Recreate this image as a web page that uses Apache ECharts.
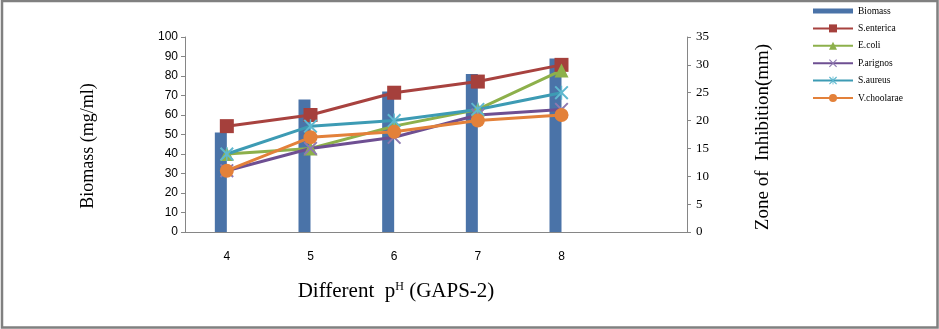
<!DOCTYPE html>
<html>
<head>
<meta charset="utf-8">
<script src="https://cdn.jsdelivr.net/npm/echarts@6/dist/echarts.min.js"></script>
<style>html,body{margin:0;padding:0;background:#fff;}#c{width:939px;height:329px;}</style>
</head>
<body>
<div id="c"></div>
<script>
var categories = ['4', '5', '6', '7', '8', ''];
var biomass = [51, 68, 72, 81, 89];
var sEnterica = [19, 21, 25, 27, 30];
var eColi = [14, 15, 19, 22, 29];
var pArignos = [11, 15, 17, 21, 22];
var sAureus = [14, 19, 20, 22, 25];
var vCholerae = [11, 17, 18, 20, 21];
var leftTicks = {min: 0, max: 100, interval: 10};
var rightTicks = {min: 0, max: 35, interval: 5};

var X_PATH = 'path://M0,1L1,0L10,9L9,10Z M9,0L10,1L1,10L0,9Z';
var STAR_PATH = 'path://M0,1L1,0L10,9L9,10Z M9,0L10,1L1,10L0,9Z M4.5,0L5.5,0L5.5,10L4.5,10Z';
var axisGrey = '#868686';
var serif = '"Liberation Serif", "Times New Roman", serif';
var sans = '"Liberation Sans", Arial, sans-serif';

function lineSeries(name, data, color, markColor, symbol, size) {
  return {
    name: name, type: 'line', yAxisIndex: 1, data: data,
    symbol: symbol, symbolSize: size,
    lineStyle: {color: color, width: 3},
    itemStyle: {color: markColor},
    z: 3
  };
}

var chart = echarts.init(document.getElementById('c'), null, {renderer: 'canvas'});
chart.setOption({
  animation: false,
  backgroundColor: '#fff',
  grid: {left: 185, right: 252, top: 37, bottom: 97},
  legend: {
    orient: 'vertical', left: 812, top: 6, padding: 0,
    itemWidth: 40, itemHeight: 10, itemGap: 7.4,
    textStyle: {fontFamily: serif, fontSize: 9.5, color: '#000'},
    data: [
      {name: 'Biomass', icon: 'path://M0,0H40V5H0Z'},
      'S.enterica', 'E.coli', 'P.arignos', 'S.aureus', 'V.choolarae'
    ]
  },
  xAxis: {
    type: 'category', data: categories,
    axisLine: {lineStyle: {color: axisGrey}},
    axisTick: {length: 4, lineStyle: {color: axisGrey}},
    axisLabel: {fontFamily: sans, fontSize: 12, color: '#000', margin: 19}
  },
  yAxis: [
    {
      type: 'value', min: leftTicks.min, max: leftTicks.max, interval: leftTicks.interval,
      splitLine: {show: false},
      axisLine: {show: true, lineStyle: {color: axisGrey}},
      axisTick: {show: true, length: 4, lineStyle: {color: axisGrey}},
      axisLabel: {fontFamily: sans, fontSize: 12, color: '#000', margin: 7}
    },
    {
      type: 'value', position: 'right', min: rightTicks.min, max: rightTicks.max, interval: rightTicks.interval,
      splitLine: {show: false},
      axisLine: {show: true, lineStyle: {color: axisGrey}},
      axisTick: {show: true, length: 4, lineStyle: {color: axisGrey}},
      axisLabel: {fontFamily: serif, fontSize: 13, color: '#000', margin: 9}
    }
  ],
  series: [
    {name: 'Biomass', type: 'bar', yAxisIndex: 0, data: biomass, barWidth: 12, barGap: '0%',
     itemStyle: {color: '#4A73A8'}, z: 2},
    {name: '_pad', type: 'bar', yAxisIndex: 0, data: [], barWidth: 12},
    lineSeries('S.enterica', sEnterica, '#A8423F', '#A5403C', 'rect', 14),
    lineSeries('E.coli', eColi, '#8DB04B', '#8DB04B', 'triangle', 14),
    lineSeries('P.arignos', pArignos, '#6E4F92', '#8E79B0', X_PATH, 14),
    lineSeries('S.aureus', sAureus, '#3D9BB4', '#5FB8CF', STAR_PATH, 14),
    lineSeries('V.choolarae', vCholerae, '#E3813A', '#E3813A', 'circle', 14)
  ],
  graphic: [
    {type: 'rect', shape: {x: 2, y: 1, width: 935.5, height: 326.5},
     style: {fill: 'none', stroke: '#808080', lineWidth: 2.5}, z: 10},
    {type: 'text', x: 88, y: 146, rotation: Math.PI / 2,
     style: {text: 'Biomass (mg/ml)', font: '18px ' + serif, fill: '#000',
             textAlign: 'center', textVerticalAlign: 'middle'}},
    {type: 'text', x: 763, y: 137, rotation: Math.PI / 2,
     style: {text: 'Zone of  Inhibition(mm)', font: '19px ' + serif, fill: '#000',
             textAlign: 'center', textVerticalAlign: 'middle'}},
    {type: 'text', x: 396, y: 291,
     style: {text: '{a|Different  p}{s|H}{a| (GAPS-2)}', fill: '#000',
             textAlign: 'center', textVerticalAlign: 'middle',
             rich: {
               a: {fontFamily: serif, fontSize: 21, color: '#000'},
               s: {fontFamily: serif, fontSize: 12, color: '#000', verticalAlign: 'top', padding: [0, 0, 8, 0]}
             }}}
  ]
});
</script>
</body>
</html>
